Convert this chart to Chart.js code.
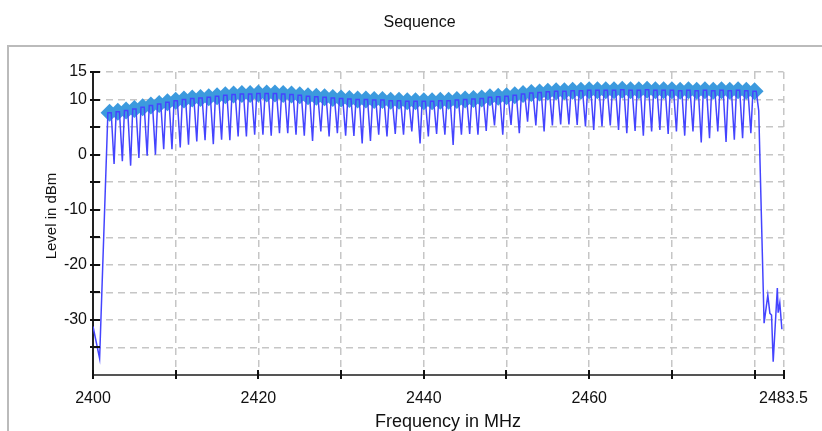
<!DOCTYPE html>
<html>
<head>
<meta charset="utf-8">
<script src="https://cdn.jsdelivr.net/npm/chart.js@4"></script>
<style>
  body { margin: 0; background: #fff; }
  #wrap { position: relative; width: 822px; height: 431px; overflow: hidden;
          font-family: Arial, "Liberation Sans", sans-serif; color: #111; }
  #frame { position: absolute; left: 7px; top: 45px; width: 900px; height: 500px;
           border-left: 2px solid #bbb; border-top: 2px solid #bbb; }
  #title { position: absolute; left: 0; top: 14px; width: 839px; text-align: center;
           font-size: 16px; line-height: 16px; }
  #xTitle { position: absolute; left: 298px; top: 412px; width: 300px; text-align: center;
            font-size: 18px; line-height: 18px; white-space: nowrap; }
  #yTitle { position: absolute; left: -49px; top: 207px; width: 200px; text-align: center;
            font-size: 15px; line-height: 18px; transform: rotate(-90deg); white-space: nowrap; }
  canvas { position: absolute; left: 0; top: 0; }
</style>
</head>
<body>
<div id="wrap">
  <div id="frame"></div>
  <canvas id="chart" width="822" height="431"></canvas>
  <div id="title">Sequence</div>
  <div id="xTitle">Frequency in MHz</div>
  <div id="yTitle">Level in dBm</div>
</div>
<script>
// Kanal-Mittenfrequenzen (MHz)
const channelFreqs = [
  2402, 2403, 2404, 2405, 2406, 2407, 2408, 2409, 2410, 2411,
  2412, 2413, 2414, 2415, 2416, 2417, 2418, 2419, 2420, 2421,
  2422, 2423, 2424, 2425, 2426, 2427, 2428, 2429, 2430, 2431,
  2432, 2433, 2434, 2435, 2436, 2437, 2438, 2439, 2440, 2441,
  2442, 2443, 2444, 2445, 2446, 2447, 2448, 2449, 2450, 2451,
  2452, 2453, 2454, 2455, 2456, 2457, 2458, 2459, 2460, 2461,
  2462, 2463, 2464, 2465, 2466, 2467, 2468, 2469, 2470, 2471,
  2472, 2473, 2474, 2475, 2476, 2477, 2478, 2479, 2480
];

// Spitzenpegel je Kanal (dBm) - Rauten
const peakLevels = [
  7.6, 7.8, 8.0, 8.3, 8.6, 8.9, 9.2, 9.5, 9.8, 10.0,
  10.2, 10.3, 10.4, 10.6, 10.8, 10.9, 11.0, 11.0, 11.1, 11.1,
  11.1, 11.0, 10.9, 10.8, 10.6, 10.5, 10.4, 10.3, 10.2, 10.1,
  10.0, 10.0, 9.9, 9.9, 9.8, 9.8, 9.7, 9.7, 9.7, 9.7,
  9.8, 9.8, 9.9, 10.0, 10.1, 10.2, 10.4, 10.5, 10.6, 10.8,
  11.0, 11.2, 11.3, 11.4, 11.5, 11.5, 11.6, 11.6, 11.7, 11.7,
  11.7, 11.7, 11.8, 11.7, 11.7, 11.8, 11.7, 11.7, 11.7, 11.6,
  11.7, 11.6, 11.7, 11.6, 11.7, 11.6, 11.7, 11.6, 11.5
];

// Einbruch nach jedem Kanal (dBm), 2402..2479
const dipLevels = [
  -1.7, -1.2, -2.0, -0.6, -0.2, 0.0, 1.0, 1.0, 1.3, 1.8,
  2.4, 2.6, 1.9, 2.7, 2.6, 3.3, 3.3, 3.6, 3.6, 3.45,
  3.9, 3.9, 3.6, 3.45, 2.5, 4.2, 3.3, 3.9, 3.45, 3.4,
  2.05, 2.5, 3.6, 3.3, 3.75, 3.6, 4.2, 2.05, 3.3, 3.75,
  3.6, 1.75, 3.6, 3.75, 3.6, 4.3, 5.3, 3.6, 5.4, 3.9,
  6.0, 5.3, 4.2, 5.3, 5.5, 5.5, 5.4, 5.1, 4.5, 5.1,
  5.3, 4.5, 3.9, 4.3, 3.45, 4.2, 4.5, 3.75, 4.2, 3.45,
  4.2, 2.2, 3.0, 4.2, 2.3, 2.7, 3.0, 3.9
];

// Rauschen vor und nach dem Band
const startFreqs = [2400, 2400.8];
const startLevels = [-31.2, -37.0];
const endFreqs = [2480.5, 2481.15, 2481.6, 2481.85, 2482.05, 2482.25, 2482.75, 2482.85, 2483.05, 2483.3];
const endLevels = [8.0, -30.6, -25.5, -28.8, -29.1, -37.6, -24.2, -28.7, -26.9, -31.7];

// Form eines Kanals relativ zur Mitte (MHz)
const plateauOffsets = [-0.2, 0.2];
const dipOffset = 0.55;

// Achsen
const xTickValues = [2400, 2410, 2420, 2430, 2440, 2450, 2460, 2470, 2480, 2483.5];
const xTickLabels = [2400, 2420, 2440, 2460, 2483.5];
const yTickValues = [-35, -30, -25, -20, -15, -10, -5, 0, 5, 10, 15];
const yTickLabels = [15, 10, 0, -10, -20, -30];

const trace = [];
startFreqs.forEach((f, i) => trace.push({ x: f, y: startLevels[i] }));
channelFreqs.forEach((f, i) => {
  plateauOffsets.forEach(o => trace.push({ x: f + o, y: peakLevels[i] }));
  if (i < dipLevels.length) trace.push({ x: f + dipOffset, y: dipLevels[i] });
});
endFreqs.forEach((f, i) => trace.push({ x: f, y: endLevels[i] }));

const peaks = channelFreqs.map((f, i) => ({ x: f, y: peakLevels[i] }));

const FONT = "Arial, 'Liberation Sans', sans-serif";
const gridColor = "#c6c6c6";

const tickMarks = {
  id: "tickMarks",
  afterDraw(chart) {
    const { ctx, chartArea, scales: { x, y } } = chart;
    ctx.save();
    ctx.strokeStyle = "#111";
    ctx.lineWidth = 2;
    ctx.beginPath();
    x.ticks.forEach(t => {
      const px = Math.round(x.getPixelForValue(t.value));
      ctx.moveTo(px, chartArea.bottom - 5);
      ctx.lineTo(px, chartArea.bottom + 4);
    });
    y.ticks.forEach(t => {
      const py = Math.round(y.getPixelForValue(t.value));
      ctx.moveTo(chartArea.left - 3, py);
      ctx.lineTo(chartArea.left + 7, py);
    });
    ctx.stroke();
    ctx.restore();
  }
};

new Chart(document.getElementById("chart"), {
  type: "line",
  data: {
    datasets: [
      {
        label: "Trace",
        data: trace,
        borderColor: "#4444ff",
        borderWidth: 1.5,
        pointRadius: 0,
        tension: 0,
        order: 0
      },
      {
        label: "Peaks",
        data: peaks,
        showLine: false,
        pointStyle: "rectRot",
        pointRadius: 9,
        pointBackgroundColor: "#3c9ade",
        pointBorderWidth: 0,
        order: 1
      }
    ]
  },
  options: {
    responsive: false,
    animation: false,
    devicePixelRatio: 1,
    layout: { padding: { top: 72, right: 36, left: 0, bottom: 0 } },
    plugins: {
      legend: { display: false },
      tooltip: { enabled: false }
    },
    scales: {
      x: {
        type: "linear",
        min: 2400,
        max: 2483.5,
        afterBuildTicks: s => { s.ticks = xTickValues.map(v => ({ value: v })); },
        afterFit: s => { s.height = 56; },
        ticks: {
          autoSkip: false,
          maxRotation: 0,
          padding: 14,
          color: "#111",
          font: { family: FONT, size: 16 },
          callback: v => xTickLabels.includes(v) ? String(v) : ""
        },
        grid: {
          drawTicks: false,
          lineWidth: 1.5,
          color: c => c.index === 0 ? "rgba(0,0,0,0)" : gridColor
        },
        border: { display: true, color: "#555", width: 2, dash: [7, 5] }
      },
      y: {
        min: -40,
        max: 15,
        afterBuildTicks: s => { s.ticks = yTickValues.map(v => ({ value: v })); },
        afterFit: s => { s.width = 93; },
        ticks: {
          autoSkip: false,
          padding: 6,
          color: "#111",
          font: { family: FONT, size: 16 },
          callback: v => yTickLabels.includes(v) ? String(v) : ""
        },
        grid: {
          drawTicks: false,
          lineWidth: 1.5,
          color: gridColor
        },
        border: { display: true, color: "#222", width: 2, dash: [7, 5] }
      }
    }
  },
  plugins: [tickMarks]
});
</script>
</body>
</html>
